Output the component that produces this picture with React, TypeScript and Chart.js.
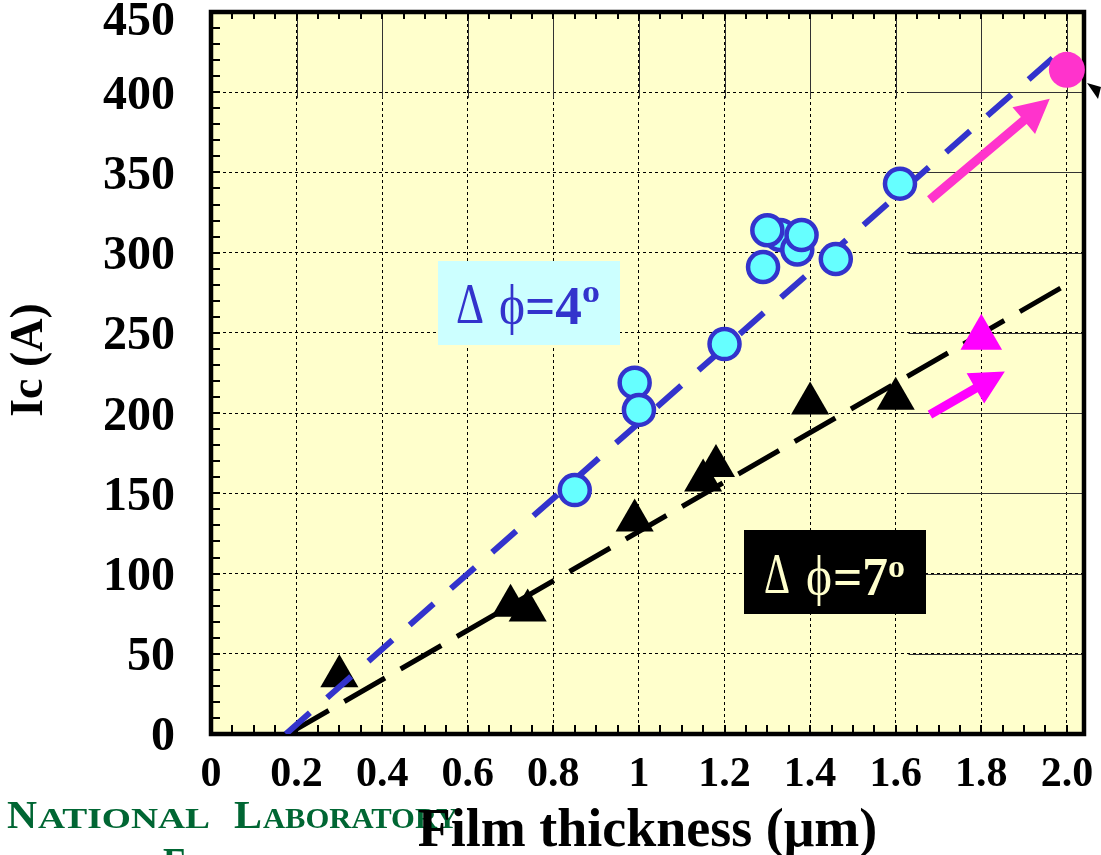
import React, { useEffect, useRef } from "react";
import { Chart, registerables } from "chart.js";

Chart.register(...registerables);

const FONT = "'Liberation Serif', 'Times New Roman', serif";

// Axis ticks
const X_TICKS = [0, 0.2, 0.4, 0.6, 0.8, 1.0, 1.2, 1.4, 1.6, 1.8, 2.0];
const X_TICK_LABELS = ["0", "0.2", "0.4", "0.6", "0.8", "1", "1.2", "1.4", "1.6", "1.8", "2.0"];
const Y_TICKS = [0, 50, 100, 150, 200, 250, 300, 350, 400, 450];

// Δφ = 4° films (circles)
const PHI4_THICKNESS = [1.33, 1.37, 0.85, 0.99, 1.0, 1.2, 1.29, 1.3, 1.38, 1.46, 1.61];
const PHI4_IC = [311, 302, 152, 219, 202, 243, 291, 314, 311, 296, 343];

// Δφ = 7° films (triangles)
const PHI7_THICKNESS = [0.3, 0.7, 0.74, 0.99, 1.15, 1.18, 1.4, 1.6];
const PHI7_IC = [36, 80, 77, 133, 158, 167, 206, 209];

// Dashed trend lines
const FIT4_THICKNESS = [0.175, 2.0];
const FIT4_IC = [0, 429];
const FIT7_THICKNESS = [0.18, 2.005];
const FIT7_IC = [0, 281];

// Improved results (magenta marks)
const IMPROVED4_THICKNESS = [2.0];
const IMPROVED4_IC = [414];
const IMPROVED7_THICKNESS = [1.8];
const IMPROVED7_IC = [247];

// Improvement arrows (data coordinates)
const ARROW_FROM_THICKNESS = [1.68, 1.68];
const ARROW_FROM_IC = [333, 199];
const ARROW_TO_THICKNESS = [1.96, 1.855];
const ARROW_TO_IC = [396, 226];

const pts = (xs: number[], ys: number[]) => xs.map((x, i) => ({ x, y: ys[i] }));

function fitText(
  ctx: CanvasRenderingContext2D,
  text: string,
  font: string,
  x0: number,
  x1: number,
  baseline: number
) {
  ctx.font = font;
  const w = ctx.measureText(text).width || 1;
  ctx.save();
  ctx.translate(x0, baseline);
  ctx.scale((x1 - x0) / w, 1);
  ctx.textAlign = "left";
  ctx.textBaseline = "alphabetic";
  ctx.fillText(text, 0, 0);
  ctx.restore();
}

function drawArrow(
  ctx: CanvasRenderingContext2D,
  x0: number,
  y0: number,
  x1: number,
  y1: number,
  shaft: number,
  headLen: number,
  headW: number,
  color: string
) {
  const ang = Math.atan2(y1 - y0, x1 - x0);
  const len = Math.hypot(x1 - x0, y1 - y0);
  ctx.save();
  ctx.translate(x0, y0);
  ctx.rotate(ang);
  ctx.fillStyle = color;
  ctx.beginPath();
  ctx.moveTo(0, -shaft / 2);
  ctx.lineTo(len - headLen, -shaft / 2);
  ctx.lineTo(len - headLen, -headW / 2);
  ctx.lineTo(len, 0);
  ctx.lineTo(len - headLen, headW / 2);
  ctx.lineTo(len - headLen, shaft / 2);
  ctx.lineTo(0, shaft / 2);
  ctx.closePath();
  ctx.fill();
  ctx.restore();
}

const decor = {
  id: "decor",
  beforeDraw(chart: any) {
    const { ctx, chartArea: a } = chart;
    ctx.save();
    ctx.fillStyle = "#FFFFCC";
    ctx.fillRect(a.left, a.top, a.right - a.left, a.bottom - a.top);

    // green footer (small caps)
    ctx.fillStyle = "#006633";
    const big = `bold 39px ${FONT}`;
    const small = `bold 30px ${FONT}`;
    fitText(ctx, "N", big, 7, 37, 828);
    fitText(ctx, "ATIONAL", small, 38, 210, 828);
    fitText(ctx, "L", big, 234, 262, 828);
    fitText(ctx, "ABORATORY", small, 263, 458, 828);
    fitText(ctx, "PARTMENT", small, -120, 63, 875);
    fitText(ctx, "OF", small, 90, 160, 875);
    fitText(ctx, "E", big, 163, 187, 875);
    fitText(ctx, "NERGY", small, 200, 290, 875);
    ctx.restore();
  },
  beforeDatasetsDraw(chart: any) {
    const { ctx, chartArea: a, scales } = chart;
    const x = scales.x;
    const y = scales.y;
    ctx.save();

    // solid parts of the grid
    ctx.strokeStyle = "#333";
    ctx.lineWidth = 1;
    const yEnd = y.getPixelForValue(400) + 6;
    ctx.beginPath();
    for (const v of X_TICKS.slice(1)) {
      const px = Math.round(x.getPixelForValue(v)) + 0.5;
      ctx.moveTo(px, a.top);
      ctx.lineTo(px, yEnd);
    }
    const xStart = x.getPixelForValue(1.63);
    for (const v of Y_TICKS.slice(1, -1)) {
      const py = Math.round(y.getPixelForValue(v)) + 0.5;
      ctx.moveTo(xStart, py);
      ctx.lineTo(a.right, py);
    }
    ctx.stroke();

    // annotation boxes
    ctx.fillStyle = "#CCFFFF";
    ctx.fillRect(438, 261, 182, 84);
    ctx.fillStyle = "#3333CC";
    fitText(ctx, "Δ", `56px ${FONT}`, 456, 484, 323);
    fitText(ctx, "ϕ", `54px ${FONT}`, 499, 525, 323);
    fitText(ctx, "=4", `bold 54px ${FONT}`, 525, 582, 324);
    fitText(ctx, "o", `bold 31px ${FONT}`, 582, 600, 302);

    ctx.fillStyle = "#000000";
    ctx.fillRect(744, 530, 182, 84);
    ctx.fillStyle = "#FFFFCC";
    fitText(ctx, "Δ", `56px ${FONT}`, 764, 790, 593);
    fitText(ctx, "ϕ", `54px ${FONT}`, 806, 832, 594);
    fitText(ctx, "=7", `bold 54px ${FONT}`, 833, 888, 595);
    fitText(ctx, "o", `bold 31px ${FONT}`, 888, 905, 577);

    // minor ticks
    ctx.strokeStyle = "#000";
    ctx.lineWidth = 2;
    ctx.beginPath();
    for (let i = 0; i <= 40; i++) {
      const px = Math.round(x.getPixelForValue(i * 0.05));
      if (px > a.right - 3) continue;
      ctx.moveTo(px, a.bottom);
      ctx.lineTo(px, a.bottom - 9);
      ctx.moveTo(px, a.top);
      ctx.lineTo(px, a.top + 7);
    }
    for (let j = 0; j <= 45; j++) {
      const py = Math.round(y.getPixelForValue(j * 10));
      ctx.moveTo(a.left, py);
      ctx.lineTo(a.left + 9, py);
    }
    ctx.stroke();

    // frame
    ctx.lineWidth = 4.5;
    ctx.strokeRect(a.left, a.top, a.right - a.left, a.bottom - a.top);
    ctx.restore();
  },
  afterDatasetsDraw(chart: any) {
    const { ctx, scales } = chart;
    const x = scales.x;
    const y = scales.y;
    const colors = ["#FF33CC", "#FF00FF"];
    for (let i = 0; i < ARROW_FROM_THICKNESS.length; i++) {
      drawArrow(
        ctx,
        x.getPixelForValue(ARROW_FROM_THICKNESS[i]),
        y.getPixelForValue(ARROW_FROM_IC[i]),
        x.getPixelForValue(ARROW_TO_THICKNESS[i]),
        y.getPixelForValue(ARROW_TO_IC[i]),
        9,
        34,
        35,
        colors[i]
      );
    }
    // small black arrow tip outside the frame (top right)
    ctx.save();
    ctx.fillStyle = "#000";
    ctx.beginPath();
    ctx.moveTo(1087, 83);
    ctx.lineTo(1101, 87);
    ctx.lineTo(1098, 99);
    ctx.closePath();
    ctx.fill();

    // y axis title
    ctx.fillStyle = "#000";
    ctx.font = `bold 46px ${FONT}`;
    ctx.textAlign = "center";
    ctx.textBaseline = "middle";
    ctx.translate(30, 360);
    ctx.rotate(-Math.PI / 2);
    ctx.fillText("Ic (A)", 0, 0);
    ctx.restore();
  },
};

export default function App() {
  const ref = useRef<HTMLCanvasElement>(null);

  useEffect(() => {
    if (!ref.current) return;
    const topIndex = Y_TICKS.length - 1;
    const chart = new Chart(ref.current, {
      type: "scatter",
      data: {
        datasets: [
          {
            label: "Improved Δφ=4°",
            data: pts(IMPROVED4_THICKNESS, IMPROVED4_IC),
            pointRadius: 18,
            pointBackgroundColor: "#FF33CC",
            pointBorderColor: "#FF33CC",
            pointBorderWidth: 0,
            clip: false,
            order: 0,
          } as any,
          {
            label: "Improved Δφ=7°",
            data: pts(IMPROVED7_THICKNESS, IMPROVED7_IC),
            pointStyle: "triangle",
            pointRadius: 24,
            pointBackgroundColor: "#FF00FF",
            pointBorderColor: "#FF00FF",
            pointBorderWidth: 0,
            order: 1,
          } as any,
          {
            label: "Δφ=4°",
            data: pts(PHI4_THICKNESS, PHI4_IC),
            pointRadius: 15,
            pointBackgroundColor: "#66FFFF",
            pointBorderColor: "#3333CC",
            pointBorderWidth: 4.5,
            order: 2,
          } as any,
          {
            label: "Δφ=4° fit",
            data: pts(FIT4_THICKNESS, FIT4_IC),
            showLine: true,
            pointRadius: 0,
            borderColor: "#3333CC",
            borderWidth: 6,
            borderDash: [32, 23],
            fill: false,
            order: 3,
          } as any,
          {
            label: "Δφ=7° fit",
            data: pts(FIT7_THICKNESS, FIT7_IC),
            showLine: true,
            pointRadius: 0,
            borderColor: "#000000",
            borderWidth: 5,
            borderDash: [47, 18],
            fill: false,
            order: 4,
          } as any,
          {
            label: "Δφ=7°",
            data: pts(PHI7_THICKNESS, PHI7_IC),
            pointStyle: "triangle",
            pointRadius: 22,
            pointBackgroundColor: "#000000",
            pointBorderColor: "#000000",
            pointBorderWidth: 0,
            order: 5,
          } as any,
        ],
      },
      options: {
        responsive: false,
        maintainAspectRatio: false,
        animation: false,
        events: [],
        layout: { autoPadding: false, padding: { top: 12, right: 17, left: 0, bottom: 0 } },
        plugins: {
          legend: { display: false },
          tooltip: { enabled: false },
        },
        scales: {
          x: {
            type: "linear",
            min: 0,
            max: 2.04,
            afterBuildTicks: (s: any) => {
              s.ticks = X_TICKS.map((v) => ({ value: v }));
            },
            afterFit: (s: any) => {
              s.height = 121;
              s.paddingLeft = 0;
              s.paddingRight = 0;
            },
            ticks: {
              autoSkip: false,
              maxRotation: 0,
              minRotation: 0,
              padding: 16,
              color: "#000",
              font: { family: FONT, size: 42, weight: "bold" },
              callback: (_v: any, i: number) => X_TICK_LABELS[i],
            },
            grid: { color: "#000", lineWidth: 1, drawTicks: false },
            border: { display: false, dash: [3, 3] },
            title: {
              display: true,
              text: "Film thickness (μm)",
              color: "#000",
              font: { family: FONT, size: 54, weight: "bold", lineHeight: 0.8 },
              padding: { top: 0, bottom: 1 },
            },
          },
          y: {
            type: "linear",
            min: 0,
            max: 450,
            afterBuildTicks: (s: any) => {
              s.ticks = Y_TICKS.map((v) => ({ value: v }));
            },
            afterFit: (s: any) => {
              s.width = 211;
              s.paddingTop = 0;
              s.paddingBottom = 0;
            },
            ticks: {
              autoSkip: false,
              padding: 36,
              labelOffset: 4,
              color: "#000",
              // the top label sits a little lower so that it stays inside the picture
              callback: (v: any, i: number) => (i === topIndex ? ["", String(v)] : String(v)),
              font: (c: any) =>
                c.index === topIndex
                  ? { family: FONT, size: 48, weight: "bold", lineHeight: 0.27 }
                  : { family: FONT, size: 48, weight: "bold" },
            },
            grid: { color: "#000", lineWidth: 1, drawTicks: false },
            border: { display: false, dash: [3, 3] },
          },
        },
      } as any,
      plugins: [decor],
    });
    return () => chart.destroy();
  }, []);

  return (
    <div style={{ position: "absolute", left: 0, top: 0, width: 1101, height: 855, background: "#fff" }}>
      <canvas ref={ref} width={1101} height={855} style={{ display: "block" }} />
    </div>
  );
}
